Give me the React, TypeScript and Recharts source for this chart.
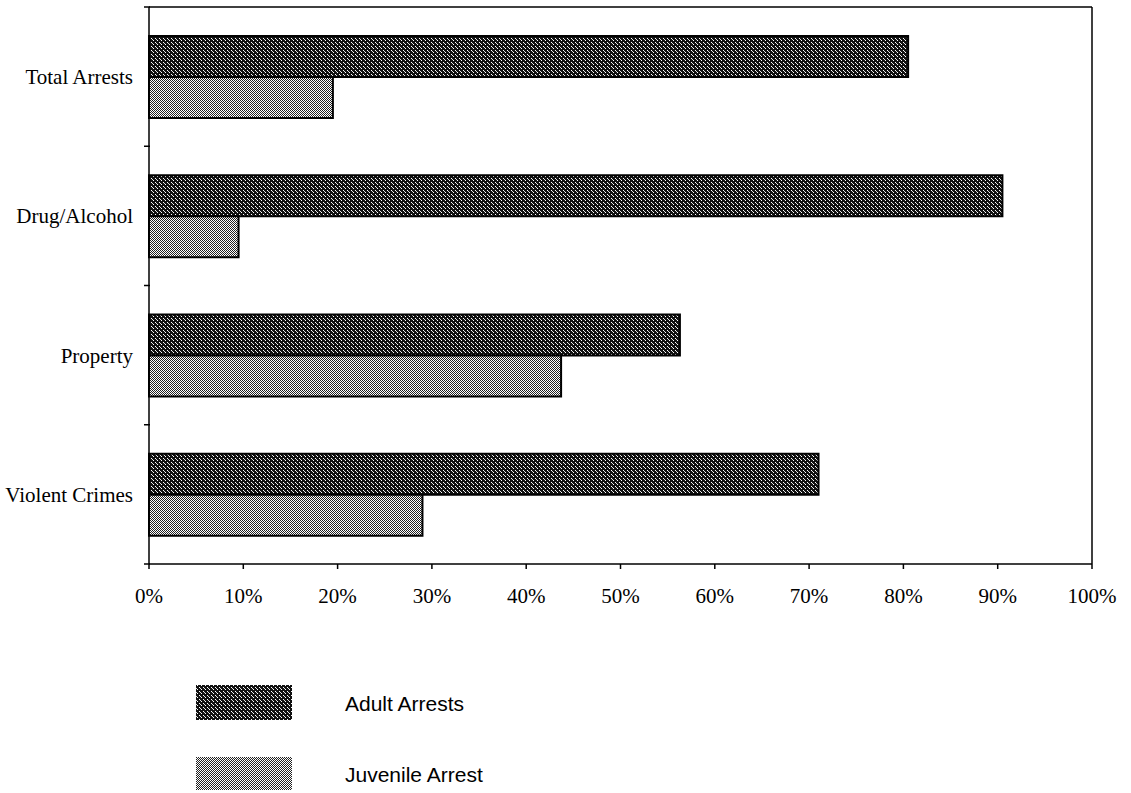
import React from 'react';
import { BarChart, Bar, XAxis, YAxis } from 'recharts';

const categories = ['Total Arrests', 'Drug/Alcohol', 'Property', 'Violent Crimes'];
const adultArrests = [80.5, 90.5, 56.3, 71.0];
const juvenileArrests = [19.5, 9.5, 43.7, 29.0];
const xTicks = [0, 10, 20, 30, 40, 50, 60, 70, 80, 90, 100];
const seriesNames = ['Adult Arrests', 'Juvenile Arrest'];

const data = categories.map((c, i) => ({
  category: c,
  adult: adultArrests[i],
  juvenile: juvenileArrests[i],
}));

// category band boundaries on an index-based [0, n-1] axis
const nCat = categories.length;
const boundaryDomain = [0, nCat - 1];
const boundaryTicks = Array.from({ length: nCat + 1 }, (_, i) => (i * (nCat - 1)) / nCat);

const Patterns = ({ suffix }: { suffix: string }) => (
  <defs>
    <pattern id={`adultPat${suffix}`} width="4" height="4" patternUnits="userSpaceOnUse">
      <rect width="4" height="4" fill="#111" />
      <rect x="1" y="0" width="1" height="1" fill="#fff" />
      <rect x="3" y="2" width="1" height="1" fill="#fff" />
      <rect x="0" y="3" width="1" height="1" fill="#ddd" />
    </pattern>
    <pattern id={`juvPat${suffix}`} width="2" height="2" patternUnits="userSpaceOnUse">
      <rect width="2" height="2" fill="#fff" />
      <rect x="0" y="0" width="1" height="1" fill="#222" />
      <rect x="1" y="1" width="1" height="1" fill="#222" />
    </pattern>
  </defs>
);

const serif = 'Liberation Serif, Times New Roman, serif';
const sans = 'Liberation Sans, Arial, sans-serif';

export default function App() {
  return (
    <div style={{ position: 'absolute', left: 0, top: 0, width: 1131, height: 793, background: '#fff' }}>
      <BarChart
        width={1131}
        height={620}
        data={data}
        layout="vertical"
        margin={{ top: 6, right: 38, left: 0, bottom: 16 }}
        barGap={0}
        barSize={41}
      >
        <Patterns suffix="c" />
        <XAxis
          type="number"
          domain={[0, 100]}
          ticks={xTicks}
          interval={0}
          tickFormatter={(v: number) => `${v}%`}
          height={40}
          tickSize={5}
          tickMargin={19}
          stroke="#000"
          strokeWidth={1.5}
          tick={{ fill: '#000', fontSize: 21, fontFamily: serif }}
        />
        <XAxis
          xAxisId="top"
          orientation="top"
          type="number"
          domain={[0, 100]}
          height={1}
          tick={false}
          tickLine={false}
          stroke="#000"
          strokeWidth={1.5}
        />
        <YAxis
          yAxisId="bounds"
          orientation="left"
          type="number"
          domain={boundaryDomain}
          allowDataOverflow
          ticks={boundaryTicks}
          interval={0}
          width={2}
          mirror
          tickFormatter={() => ''}
          tick={{ fontSize: 1, fill: 'none' }}
          tickSize={6}
          tickLine={{ stroke: '#000', strokeWidth: 1.5, transform: 'translate(-5,0)' }}
          axisLine={false}
          stroke="#000"
        />
        <YAxis
          type="category"
          dataKey="category"
          width={149}
          tickSize={0}
          tickMargin={16}
          tickLine={false}
          stroke="#000"
          strokeWidth={1.5}
          tick={{ fill: '#000', fontSize: 21, fontFamily: serif }}
        />
        <YAxis
          yAxisId="right"
          orientation="right"
          type="number"
          domain={[0, 4]}
          width={1}
          tick={false}
          tickLine={false}
          stroke="#000"
          strokeWidth={1.5}
        />
        <Bar
          dataKey="adult"
          name={seriesNames[0]}
          fill="url(#adultPatc)"
          stroke="#000"
          strokeWidth={2}
          isAnimationActive={false}
        />
        <Bar
          dataKey="juvenile"
          name={seriesNames[1]}
          fill="url(#juvPatc)"
          stroke="#000"
          strokeWidth={2}
          isAnimationActive={false}
        />
      </BarChart>
      <svg style={{ position: 'absolute', left: 196, top: 685 }} width={96} height={35}>
        <Patterns suffix="a" />
        <rect width={96} height={35} fill="url(#adultPata)" />
      </svg>
      <svg style={{ position: 'absolute', left: 196, top: 757 }} width={96} height={33}>
        <Patterns suffix="b" />
        <rect width={96} height={33} fill="url(#juvPatb)" />
      </svg>
      <div style={{ position: 'absolute', left: 345, top: 692, fontFamily: sans, fontSize: 21, lineHeight: '24px', color: '#000', whiteSpace: 'nowrap' }}>
        {seriesNames[0]}
      </div>
      <div style={{ position: 'absolute', left: 345, top: 763, fontFamily: sans, fontSize: 21, lineHeight: '24px', color: '#000', whiteSpace: 'nowrap' }}>
        {seriesNames[1]}
      </div>
    </div>
  );
}
